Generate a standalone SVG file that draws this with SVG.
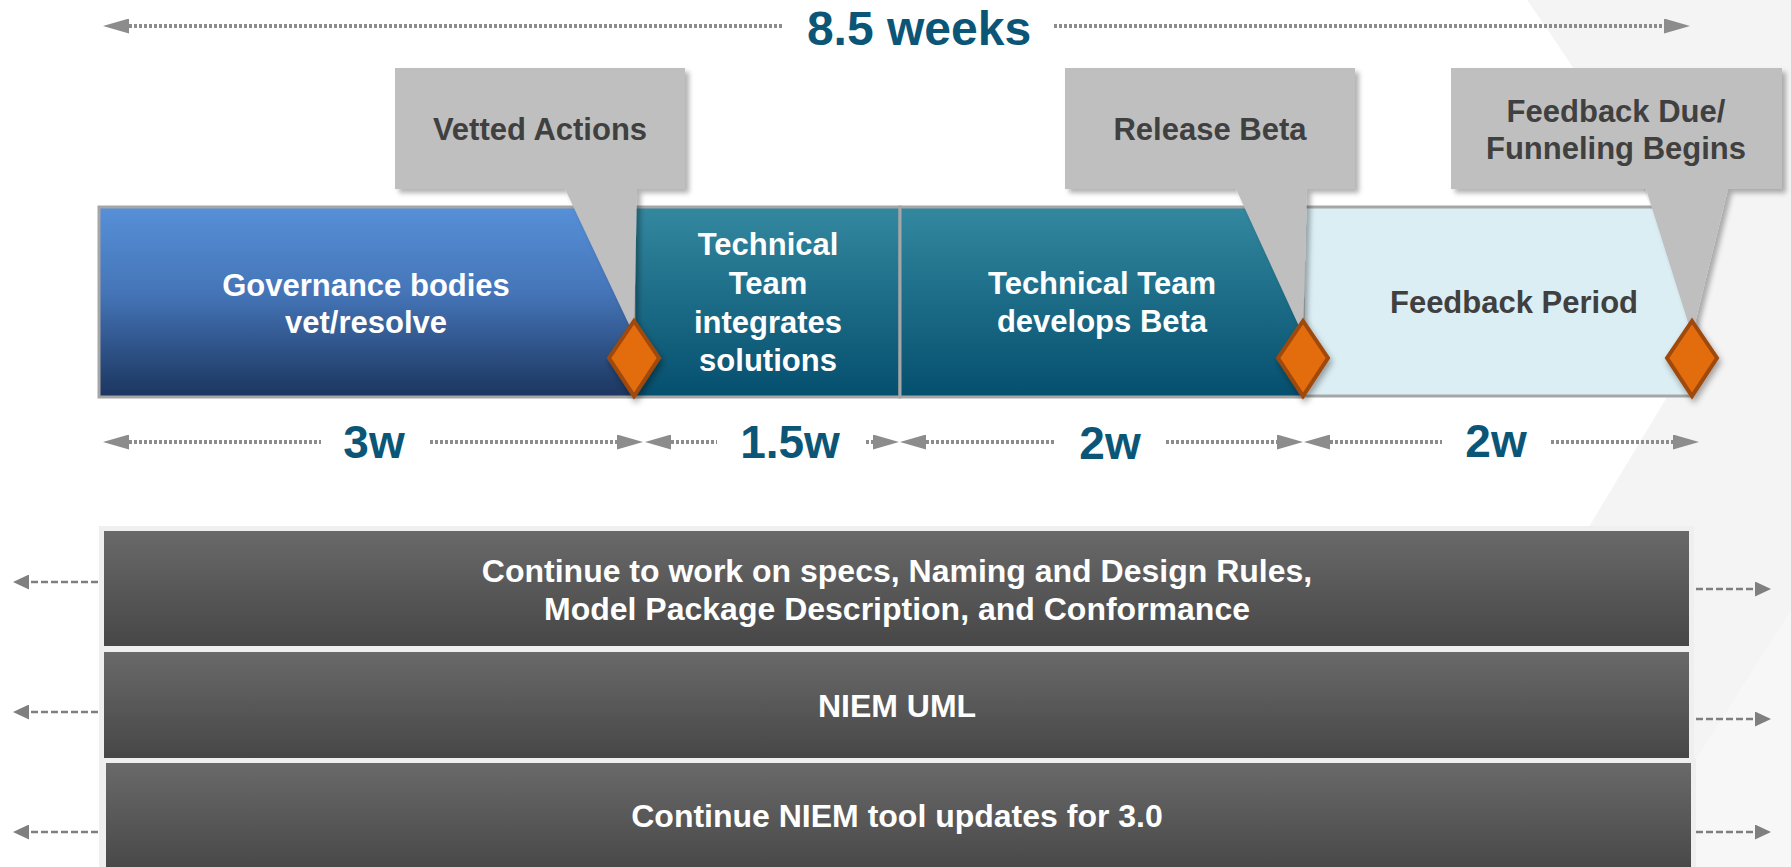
<svg xmlns="http://www.w3.org/2000/svg" width="1791" height="867" viewBox="0 0 1791 867">
<defs>
<style>
.t{font-family:"Liberation Sans",Arial,sans-serif;font-weight:bold;text-anchor:middle}
.w{fill:#ffffff;font-size:31px}
.g{fill:#404040;font-size:31px}
.wb{fill:#ffffff;font-size:32px}
.dur{fill:#0B5677;font-size:46px}
.title{fill:#0B5677;font-size:48px}
.dot{stroke:#8C8C8C;stroke-width:4;stroke-dasharray:3 2;fill:none}
.dash{stroke:#7F7F7F;stroke-width:2.6;stroke-dasharray:7 3;fill:none}
.bar{stroke:#A6A6A6;stroke-width:3}
.call{fill:#BFBFBF;filter:url(#sh)}
.ms{fill:#E36C09;stroke:#A0480A;stroke-width:4;stroke-linejoin:miter;filter:url(#sh2)}
.row{stroke:#EFEFEF;stroke-width:5}
</style>
<linearGradient id="gBlue" x1="0" y1="0" x2="0" y2="1">
<stop offset="0" stop-color="#5690D8"/>
<stop offset="0.45" stop-color="#4575B8"/>
<stop offset="1" stop-color="#1B355E"/>
</linearGradient>
<linearGradient id="gTeal" x1="0" y1="0" x2="0" y2="1">
<stop offset="0" stop-color="#33889F"/>
<stop offset="1" stop-color="#054F6E"/>
</linearGradient>
<linearGradient id="gDark" x1="0" y1="0" x2="0" y2="1">
<stop offset="0" stop-color="#6A6A6A"/>
<stop offset="1" stop-color="#464646"/>
</linearGradient>
<filter id="sh" x="-10%" y="-10%" width="125%" height="130%">
<feDropShadow dx="4" dy="4" stdDeviation="2.5" flood-color="#000" flood-opacity="0.3"/>
</filter>
<filter id="sh2" x="-30%" y="-20%" width="170%" height="150%">
<feDropShadow dx="2" dy="4" stdDeviation="3" flood-color="#000" flood-opacity="0.35"/>
</filter>
<marker id="ah" viewBox="0 0 26 15" markerWidth="26" markerHeight="15" refX="0" refY="7.5" orient="auto-start-reverse" markerUnits="userSpaceOnUse">
<path d="M0,0 L26,7.5 L0,15 Z" fill="#8C8C8C"/>
</marker>
<marker id="ahs" viewBox="0 0 16 15" markerWidth="16" markerHeight="15" refX="0" refY="7.5" orient="auto" markerUnits="userSpaceOnUse">
<path d="M0,0 L16,7.5 L0,15 Z" fill="#7F7F7F"/>
</marker>
</defs>
<rect width="1791" height="867" fill="#ffffff"/>
<path d="M1527,0 L1791,0 L1791,867 L1590,867 L1590,525 L1667,397 L1700,330 C1650,180 1590,90 1527,0 Z" fill="#F4F4F4"/>
<path d="M1791,610 L1693,764 L1693,867 L1791,867 Z" fill="#F7F7F7"/>

<g id="bar-governance">
<rect class="bar" x="99" y="207" width="535" height="190" fill="url(#gBlue)"/>
<text class="t w" x="366" y="296">Governance bodies</text>
<text class="t w" x="366" y="333">vet/resolve</text>
</g>
<g id="bar-integrates">
<rect class="bar" x="634" y="207" width="266" height="190" fill="url(#gTeal)"/>
<text class="t w" x="768" y="255">Technical</text>
<text class="t w" x="768" y="294">Team</text>
<text class="t w" x="768" y="333">integrates</text>
<text class="t w" x="768" y="371">solutions</text>
</g>
<g id="bar-develops">
<rect class="bar" x="900" y="207" width="403" height="190" fill="url(#gTeal)"/>
<text class="t w" x="1102" y="294">Technical Team</text>
<text class="t w" x="1102" y="332">develops Beta</text>
</g>
<g id="bar-feedback">
<rect class="bar" x="1303" y="207" width="389" height="189" fill="#DBEEF3"/>
<text class="t g" x="1514" y="313">Feedback Period</text>
</g>

<g id="callout-vetted">
<path class="call" d="M395,68 H685 V189 H637 L634,335 L565,189 H395 Z"/>
<text class="t g" x="540" y="140">Vetted Actions</text>
</g>
<g id="callout-release">
<path class="call" d="M1065,68 H1355 V189 H1307 L1303,335 L1236,189 H1065 Z"/>
<text class="t g" x="1210" y="140">Release Beta</text>
</g>
<g id="callout-feedback">
<path class="call" d="M1451,68 H1782 V189 H1728 L1692,335 L1646,189 H1451 Z"/>
<text class="t g" x="1616" y="122">Feedback Due/</text>
<text class="t g" x="1616" y="159">Funneling Begins</text>
</g>

<g id="milestone-1"><path class="ms" d="M634,321 L659,358 L634,396 L609,358 Z"/></g>
<g id="milestone-2"><path class="ms" d="M1303,321 L1328,358 L1303,396 L1278,358 Z"/></g>
<g id="milestone-3"><path class="ms" d="M1692,321 L1717,358 L1692,396 L1667,358 Z"/></g>

<g id="title">
<text class="t title" x="919" y="45">8.5 weeks</text>
</g>
<g id="durations">
<text class="t dur" x="374" y="458">3w</text>
<text class="t dur" x="790" y="458">1.5w</text>
<text class="t dur" x="1110" y="459">2w</text>
<text class="t dur" x="1496" y="457">2w</text>
</g>

<g id="row-specs">
<rect x="99" y="526" width="1595" height="341" fill="#EFEFEF"/>
<rect class="row" x="101.5" y="528.5" width="1590" height="120" fill="url(#gDark)"/>
<text class="t wb" x="897" y="582">Continue to work on specs, Naming and Design Rules,</text>
<text class="t wb" x="897" y="620">Model Package Description, and Conformance</text>
</g>
<g id="row-uml">
<rect class="row" x="101.5" y="649.5" width="1590" height="111" fill="url(#gDark)"/>
<text class="t wb" x="897" y="717">NIEM UML</text>
</g>
<g id="row-tools">
<rect class="row" x="103.5" y="760.5" width="1590" height="115" fill="url(#gDark)"/>
<text class="t wb" x="897" y="827">Continue NIEM tool updates for 3.0</text>
</g>

<g id="connectors">
<line class="dot" x1="129" y1="26" x2="784" y2="26" marker-start="url(#ah)"/>
<line class="dot" x1="1054" y1="26" x2="1664" y2="26" marker-end="url(#ah)"/>
<line class="dot" x1="129" y1="442" x2="321" y2="442" marker-start="url(#ah)"/>
<line class="dot" x1="430" y1="442" x2="617" y2="442" marker-end="url(#ah)"/>
<line class="dot" x1="671" y1="442" x2="717" y2="442" marker-start="url(#ah)"/>
<line class="dot" x1="866" y1="442" x2="873" y2="442" marker-end="url(#ah)"/>
<line class="dot" x1="926" y1="442" x2="1054" y2="442" marker-start="url(#ah)"/>
<line class="dot" x1="1166" y1="442" x2="1277" y2="442" marker-end="url(#ah)"/>
<line class="dot" x1="1330" y1="442" x2="1442" y2="442" marker-start="url(#ah)"/>
<line class="dot" x1="1551" y1="442" x2="1673" y2="442" marker-end="url(#ah)"/>
<line class="dash" x1="98" y1="582" x2="29" y2="582" marker-end="url(#ahs)"/>
<line class="dash" x1="98" y1="712" x2="29" y2="712" marker-end="url(#ahs)"/>
<line class="dash" x1="98" y1="832" x2="29" y2="832" marker-end="url(#ahs)"/>
<line class="dash" x1="1696" y1="589" x2="1755" y2="589" marker-end="url(#ahs)"/>
<line class="dash" x1="1696" y1="719" x2="1755" y2="719" marker-end="url(#ahs)"/>
<line class="dash" x1="1696" y1="832" x2="1755" y2="832" marker-end="url(#ahs)"/>
</g>
</svg>
